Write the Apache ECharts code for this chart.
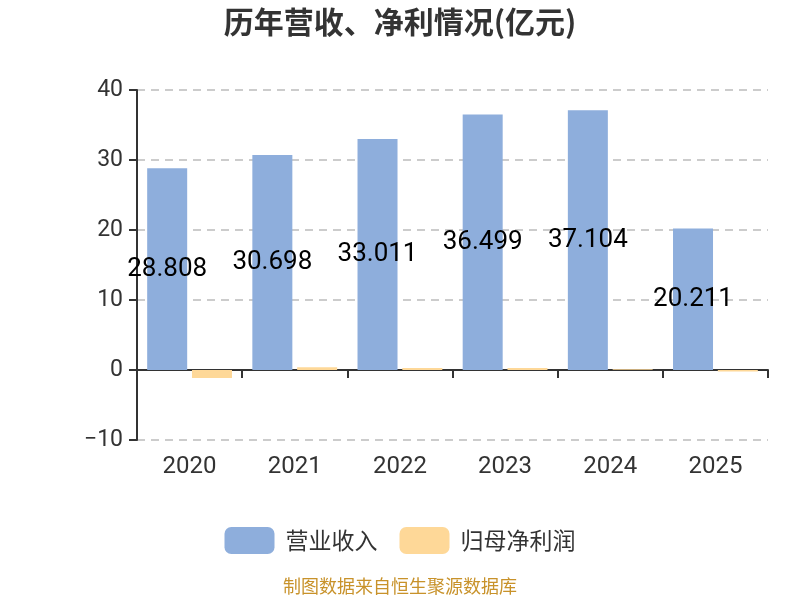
<!DOCTYPE html>
<html>
<head>
<meta charset="utf-8">
<script src="https://cdn.jsdelivr.net/npm/echarts@6/dist/echarts.min.js"></script>
<style>html,body{margin:0;padding:0;background:#fff;}#c{width:800px;height:600px;}</style>
</head>
<body>
<div id="c"></div>
<script>
var categories = ['2020', '2021', '2022', '2023', '2024', '2025'];
var revenue = [28.808, 30.698, 33.011, 36.499, 37.104, 20.211];
var netProfit = [-1.15, 0.4, 0.3, 0.3, 0.1, -0.2];
var yTicks = { min: -10, max: 40, interval: 10 };

var chart = echarts.init(document.getElementById('c'));
chart.setOption({
  backgroundColor: '#fff',
  animation: false,
  title: {
    text: '历年营收、净利情况(亿元)',
    left: 'center',
    top: 2,
    textStyle: { fontSize: 30, fontWeight: 'bold', color: '#333', fontFamily: 'Noto Sans CJK SC' }
  },
  legend: {
    top: 522,
    left: 'center',
    itemWidth: 50,
    itemHeight: 27,
    itemGap: 22,
    icon: 'roundRect',
    textStyle: { fontSize: 23, color: '#333', fontFamily: 'Noto Sans CJK SC', padding: [0, 0, 0, 6] },
    data: ['营业收入', '归母净利润']
  },
  graphic: [{
    type: 'text',
    left: 'center',
    top: 577,
    style: { text: '制图数据来自恒生聚源数据库', fontSize: 18, fill: '#c8922a', fontFamily: 'Noto Sans CJK SC' }
  }],
  grid: { left: 137, right: 32, top: 90, bottom: 160 },
  xAxis: {
    type: 'category',
    data: categories,
    axisLine: { onZero: true, lineStyle: { color: '#333', width: 2 } },
    axisTick: { show: true, length: 8, lineStyle: { color: '#333', width: 2 } },
    axisLabel: { fontSize: 24, color: '#333', margin: 15, fontFamily: 'Roboto' }
  },
  yAxis: {
    type: 'value',
    min: yTicks.min, max: yTicks.max, interval: yTicks.interval,
    axisLine: { show: true, lineStyle: { color: '#333', width: 2 } },
    axisTick: { show: true, length: 8, lineStyle: { color: '#333', width: 2 } },
    axisLabel: {
      fontSize: 23, color: '#333', fontFamily: 'Roboto', margin: 14,
      formatter: function (v) { return String(v).replace('-', '\u2212'); }
    },
    splitLine: { lineStyle: { type: [8, 6], color: '#ccc', width: 2 } }
  },
  series: [{
    name: '营业收入',
    type: 'bar',
    data: revenue,
    barWidth: 40,
    barGap: '12%',
    itemStyle: { color: '#8eaedc' },
    label: { show: true, position: 'inside', color: '#000', fontSize: 26, fontFamily: 'Roboto' }
  }, {
    name: '归母净利润',
    type: 'bar',
    data: netProfit,
    barWidth: 40,
    itemStyle: { color: '#fed898' }
  }]
});
</script>
</body>
</html>
